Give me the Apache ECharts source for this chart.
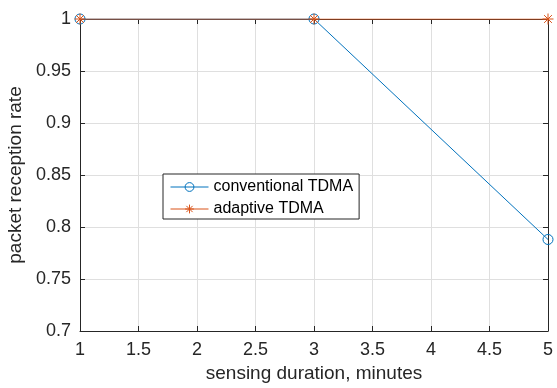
<!DOCTYPE html>
<html>
<head>
<meta charset="utf-8">
<script src="https://cdn.jsdelivr.net/npm/echarts@6/dist/echarts.min.js"></script>
<style>html,body{margin:0;padding:0;background:#fff;}#c{width:557px;height:388px;}</style>
</head>
<body>
<div id="c"></div>
<script>
var durations = [1, 3, 5];
var conventional = [1, 1, 0.788];
var adaptive = [1, 1, 1];
var seriesNames = ['conventional TDMA', 'adaptive TDMA'];
var xTitle = 'sensing duration, minutes';
var yTitle = 'packet reception rate';

var FONT = 'Liberation Sans, Arial, Helvetica, sans-serif';
var AX = '#262626';
var BLUE = '#0072BD', ORANGE = '#D95319';
var asterisk = 'path://M0,-10L0,10M-7.07,-7.07L7.07,7.07M-7.07,7.07L7.07,-7.07M-10,0L10,0';

function pairs(xs, ys) { return xs.map(function (x, i) { return [x, ys[i]]; }); }

var chart = echarts.init(document.getElementById('c'), null, { renderer: 'canvas' });
var tickCommon = { show: true, inside: true, length: 5, lineStyle: { color: AX, width: 1 } };
chart.setOption({
  animation: false,
  backgroundColor: '#fff',
  grid: { left: 80, right: 9, top: 19, bottom: 57, show: false, containLabel: false, outerBoundsMode: 'none' },
  legend: {
    orient: 'vertical',
    left: 163, top: 174,
    padding: [5, 6, 2, 7],
    itemWidth: 38, itemHeight: 11, itemGap: 6,
    borderColor: '#262626', borderWidth: 1,
    backgroundColor: '#fff',
    textStyle: { fontFamily: FONT, fontSize: 16, color: '#000' },
    lineStyle: { width: 1 },
    itemStyle: { borderWidth: 1 },
    data: [
      { name: seriesNames[0], itemStyle: { color: 'rgba(0,0,0,0)', borderColor: BLUE, borderWidth: 1 }, lineStyle: { color: BLUE, width: 1 } },
      { name: seriesNames[1], itemStyle: { color: 'rgba(0,0,0,0)', borderColor: ORANGE, borderWidth: 1 }, lineStyle: { color: ORANGE, width: 1 } }
    ]
  },
  xAxis: [{
    type: 'value', min: 1, max: 5, interval: 0.5,
    name: xTitle, nameLocation: 'middle', nameGap: 32,
    nameTextStyle: { fontFamily: FONT, fontSize: 19, color: AX },
    axisLine: { show: true, onZero: false, lineStyle: { color: AX, width: 1 } },
    axisTick: tickCommon,
    axisLabel: { fontFamily: FONT, fontSize: 18, color: AX, margin: 10 },
    splitLine: { show: true, lineStyle: { color: '#dfdfdf', width: 1 } }
  }, {
    type: 'value', min: 1, max: 5, interval: 0.5, position: 'top',
    axisLine: { show: true, onZero: false, lineStyle: { color: AX, width: 1 } },
    axisTick: tickCommon, axisLabel: { show: false }, splitLine: { show: false }
  }],
  yAxis: [{
    type: 'value', min: 0.7, max: 1, interval: 0.05,
    name: yTitle, nameLocation: 'middle', nameGap: 48,
    nameTextStyle: { fontFamily: FONT, fontSize: 19, color: AX },
    axisLine: { show: true, onZero: false, lineStyle: { color: AX, width: 1 } },
    axisTick: tickCommon,
    axisLabel: { fontFamily: FONT, fontSize: 18, color: AX, margin: 9,
      formatter: function (v) { return String(Math.round(v * 100) / 100); } },
    splitLine: { show: true, lineStyle: { color: '#dfdfdf', width: 1 } }
  }, {
    type: 'value', min: 0.7, max: 1, interval: 0.05, position: 'right',
    axisLine: { show: true, onZero: false, lineStyle: { color: AX, width: 1 } },
    axisTick: tickCommon, axisLabel: { show: false }, splitLine: { show: false }
  }],
  series: [{
    name: seriesNames[0], type: 'line',
    data: pairs(durations, conventional),
    symbol: 'circle', symbolSize: 10, showAllSymbol: true,
    lineStyle: { color: BLUE, width: 1 },
    itemStyle: { color: 'rgba(0,0,0,0)', borderColor: BLUE, borderWidth: 1 }
  }, {
    name: seriesNames[1], type: 'line',
    data: pairs(durations, adaptive),
    symbol: asterisk, symbolSize: 11, showAllSymbol: true,
    lineStyle: { color: ORANGE, width: 1 },
    itemStyle: { color: 'rgba(0,0,0,0)', borderColor: ORANGE, borderWidth: 1 }
  }]
});
</script>
</body>
</html>
